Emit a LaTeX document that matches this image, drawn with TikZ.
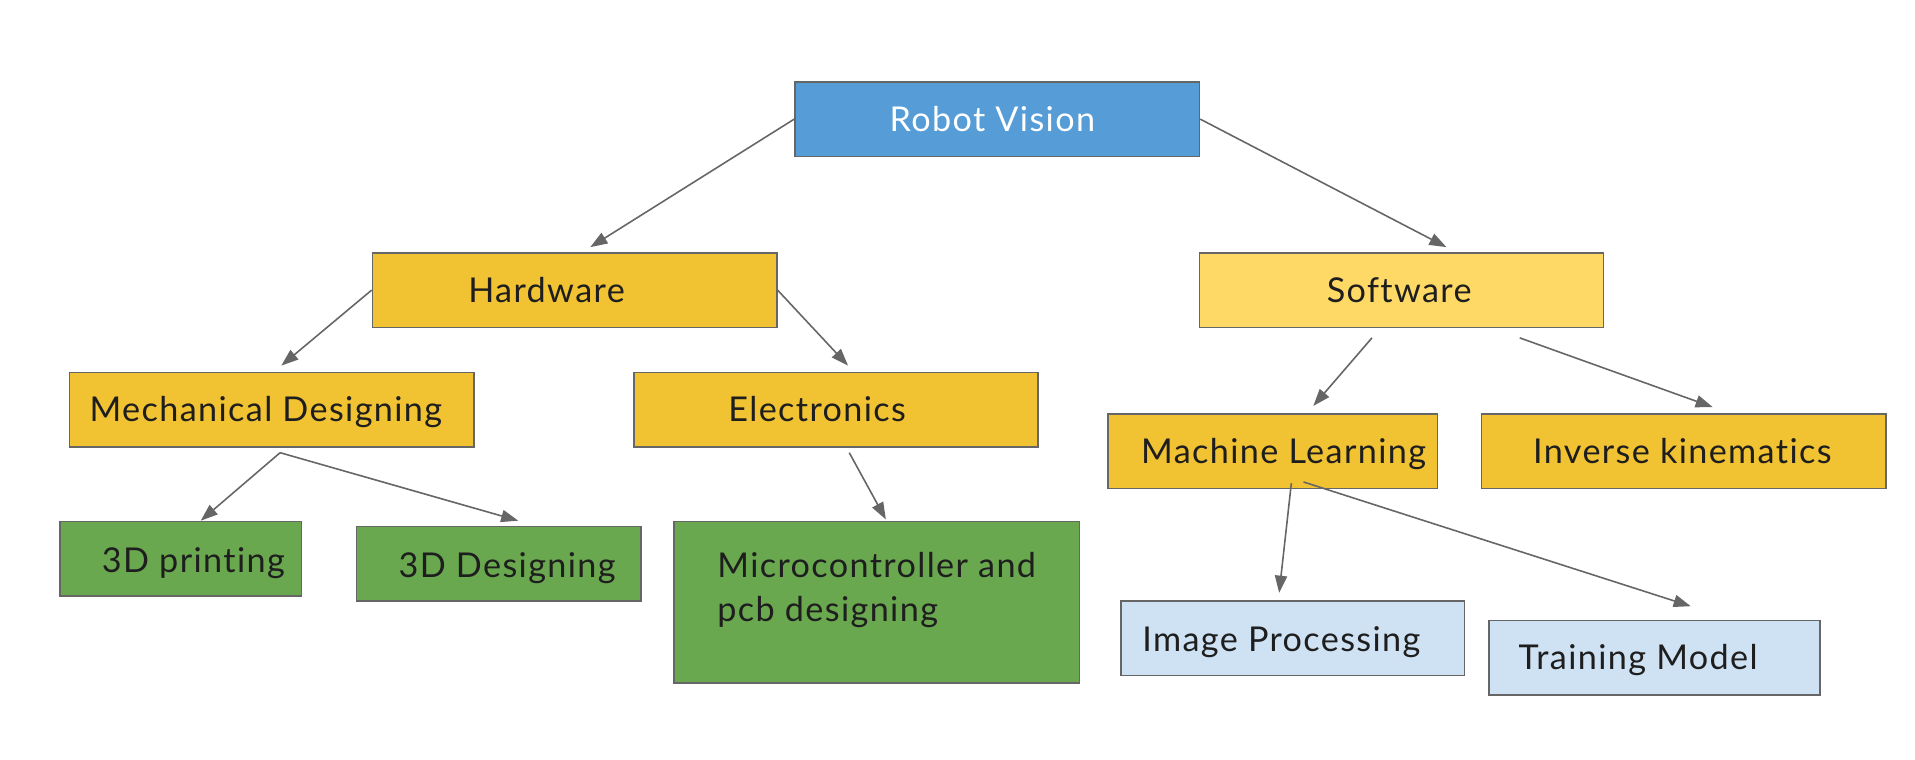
\documentclass[tikz,border=0pt]{standalone}
\usepackage{fontspec}
\setmainfont{Lato}[LetterSpace=4,Ligatures={NoCommon}]
\usetikzlibrary{arrows.meta,calc}
\definecolor{edgegray}{HTML}{666666}
\definecolor{rvblue}{HTML}{569CD6}
\definecolor{hwyellow}{HTML}{F1C232}
\definecolor{swyellow}{HTML}{FFD966}
\definecolor{lgreen}{HTML}{6AA84F}
\definecolor{lblue}{HTML}{CFE2F3}
\definecolor{txtdark}{HTML}{1E1E1E}
\tikzset{
  box/.style={draw=edgegray, line width=0.65pt, rectangle, inner sep=0pt, minimum height=30.5pt},
  txt/.style={inner sep=0pt, anchor=base west, text=txtdark, font=\fontsize{14}{18}\selectfont},
  arr/.style={draw=edgegray, line width=0.65pt, -{Triangle[length=7pt,width=5pt]}},
}
\begin{document}
\begin{tikzpicture}[x=0.5pt,y=-0.5pt]
\useasboundingbox (0,0) rectangle (1568,621.5);
% boxes
\node[box, fill=rvblue, minimum width=165.5pt] (rv) at (816.5,97.5) {};
\node[box, fill=hwyellow, minimum width=165.5pt] (hw) at (470.5,237.5) {};
\node[box, fill=swyellow, minimum width=165.5pt] (sw) at (1147.5,237.5) {};
\node[box, fill=hwyellow, minimum width=165.5pt] (md) at (222.5,335.5) {};
\node[box, fill=hwyellow, minimum width=165.5pt] (el) at (684.5,335.5) {};
\node[box, fill=hwyellow, minimum width=135pt] (ml) at (1042,369.5) {};
\node[box, fill=hwyellow, minimum width=165.5pt] (ik) at (1378.5,369.5) {};
\node[box, fill=lgreen, minimum width=99pt] (p3) at (148,457.5) {};
\node[box, fill=lgreen, minimum width=116.5pt] (d3) at (408.5,461.5) {};
\node[box, fill=lgreen, minimum width=166pt, minimum height=66pt] (mc) at (718,493) {};
\node[box, fill=lblue, minimum width=140.5pt] (ip) at (1058.5,522.5) {};
\node[box, fill=lblue, minimum width=135.5pt] (tm) at (1354.5,538.5) {};
% texts
\node[txt, text=white] (rvt) at (728,107.5) {Robot Vision};
\node[txt] (hwt) at (383,247.5) {Hardware};
\node[txt] (swt) at (1086,247.5) {Software};
\node[txt] (mdt) at (73,345.5) {Mechanical Designing};
\node[txt] (elt) at (596,345.5) {Electronics};
\node[txt] (mlt) at (934,379.5) {Machine Learning};
\node[txt] (ikt) at (1255,379.5) {Inverse kinematics};
\node[txt] (p3t) at (83,468.5) {3D printing};
\node[txt] (d3t) at (326,472.5) {3D Designing};
\node[txt] (mct1) at (587,472.5) {Microcontroller and};
\node[txt] (mct2) at (587,508.5) {pcb designing};
\node[txt] (ipt) at (935,533.5) {Image Processing};
\node[txt] (tmt) at (1243,548.5) {Training Model};
% connectors
\draw[arr] (rv.west) -- ($(hw.north west)+(179,-4)$);
\draw[arr] (rv.east) -- ($(sw.north west)+(203,-4)$);
\draw[arr] (hw.west) -- ($(md.north west)+(174,-5)$);
\draw[arr] (hw.east) -- ($(el.north west)+(176,-5)$);
\draw[arr] ($(md.south west)+(173,4)$) -- ($(p3.north west)+(116,0)$);
\draw[arr] ($(md.south west)+(173,4)$) -- ($(d3.north west)+(133,-4)$);
\draw[arr] ($(el.south west)+(177,4)$) -- ($(mc.north west)+(174,-1)$);
\draw[arr] ($(sw.south west)+(142,8)$) -- ($(ml.north west)+(169,-6)$);
\draw[arr] ($(sw.south west)+(263,8)$) -- ($(ik.north west)+(190,-5)$);
\draw[arr] ($(ml.south west)+(151,-5)$) -- ($(ip.north west)+(130,-6)$);
\draw[arr] ($(ml.south west)+(161,-6)$) -- ($(tm.north west)+(166,-11)$);
\end{tikzpicture}
\end{document}
